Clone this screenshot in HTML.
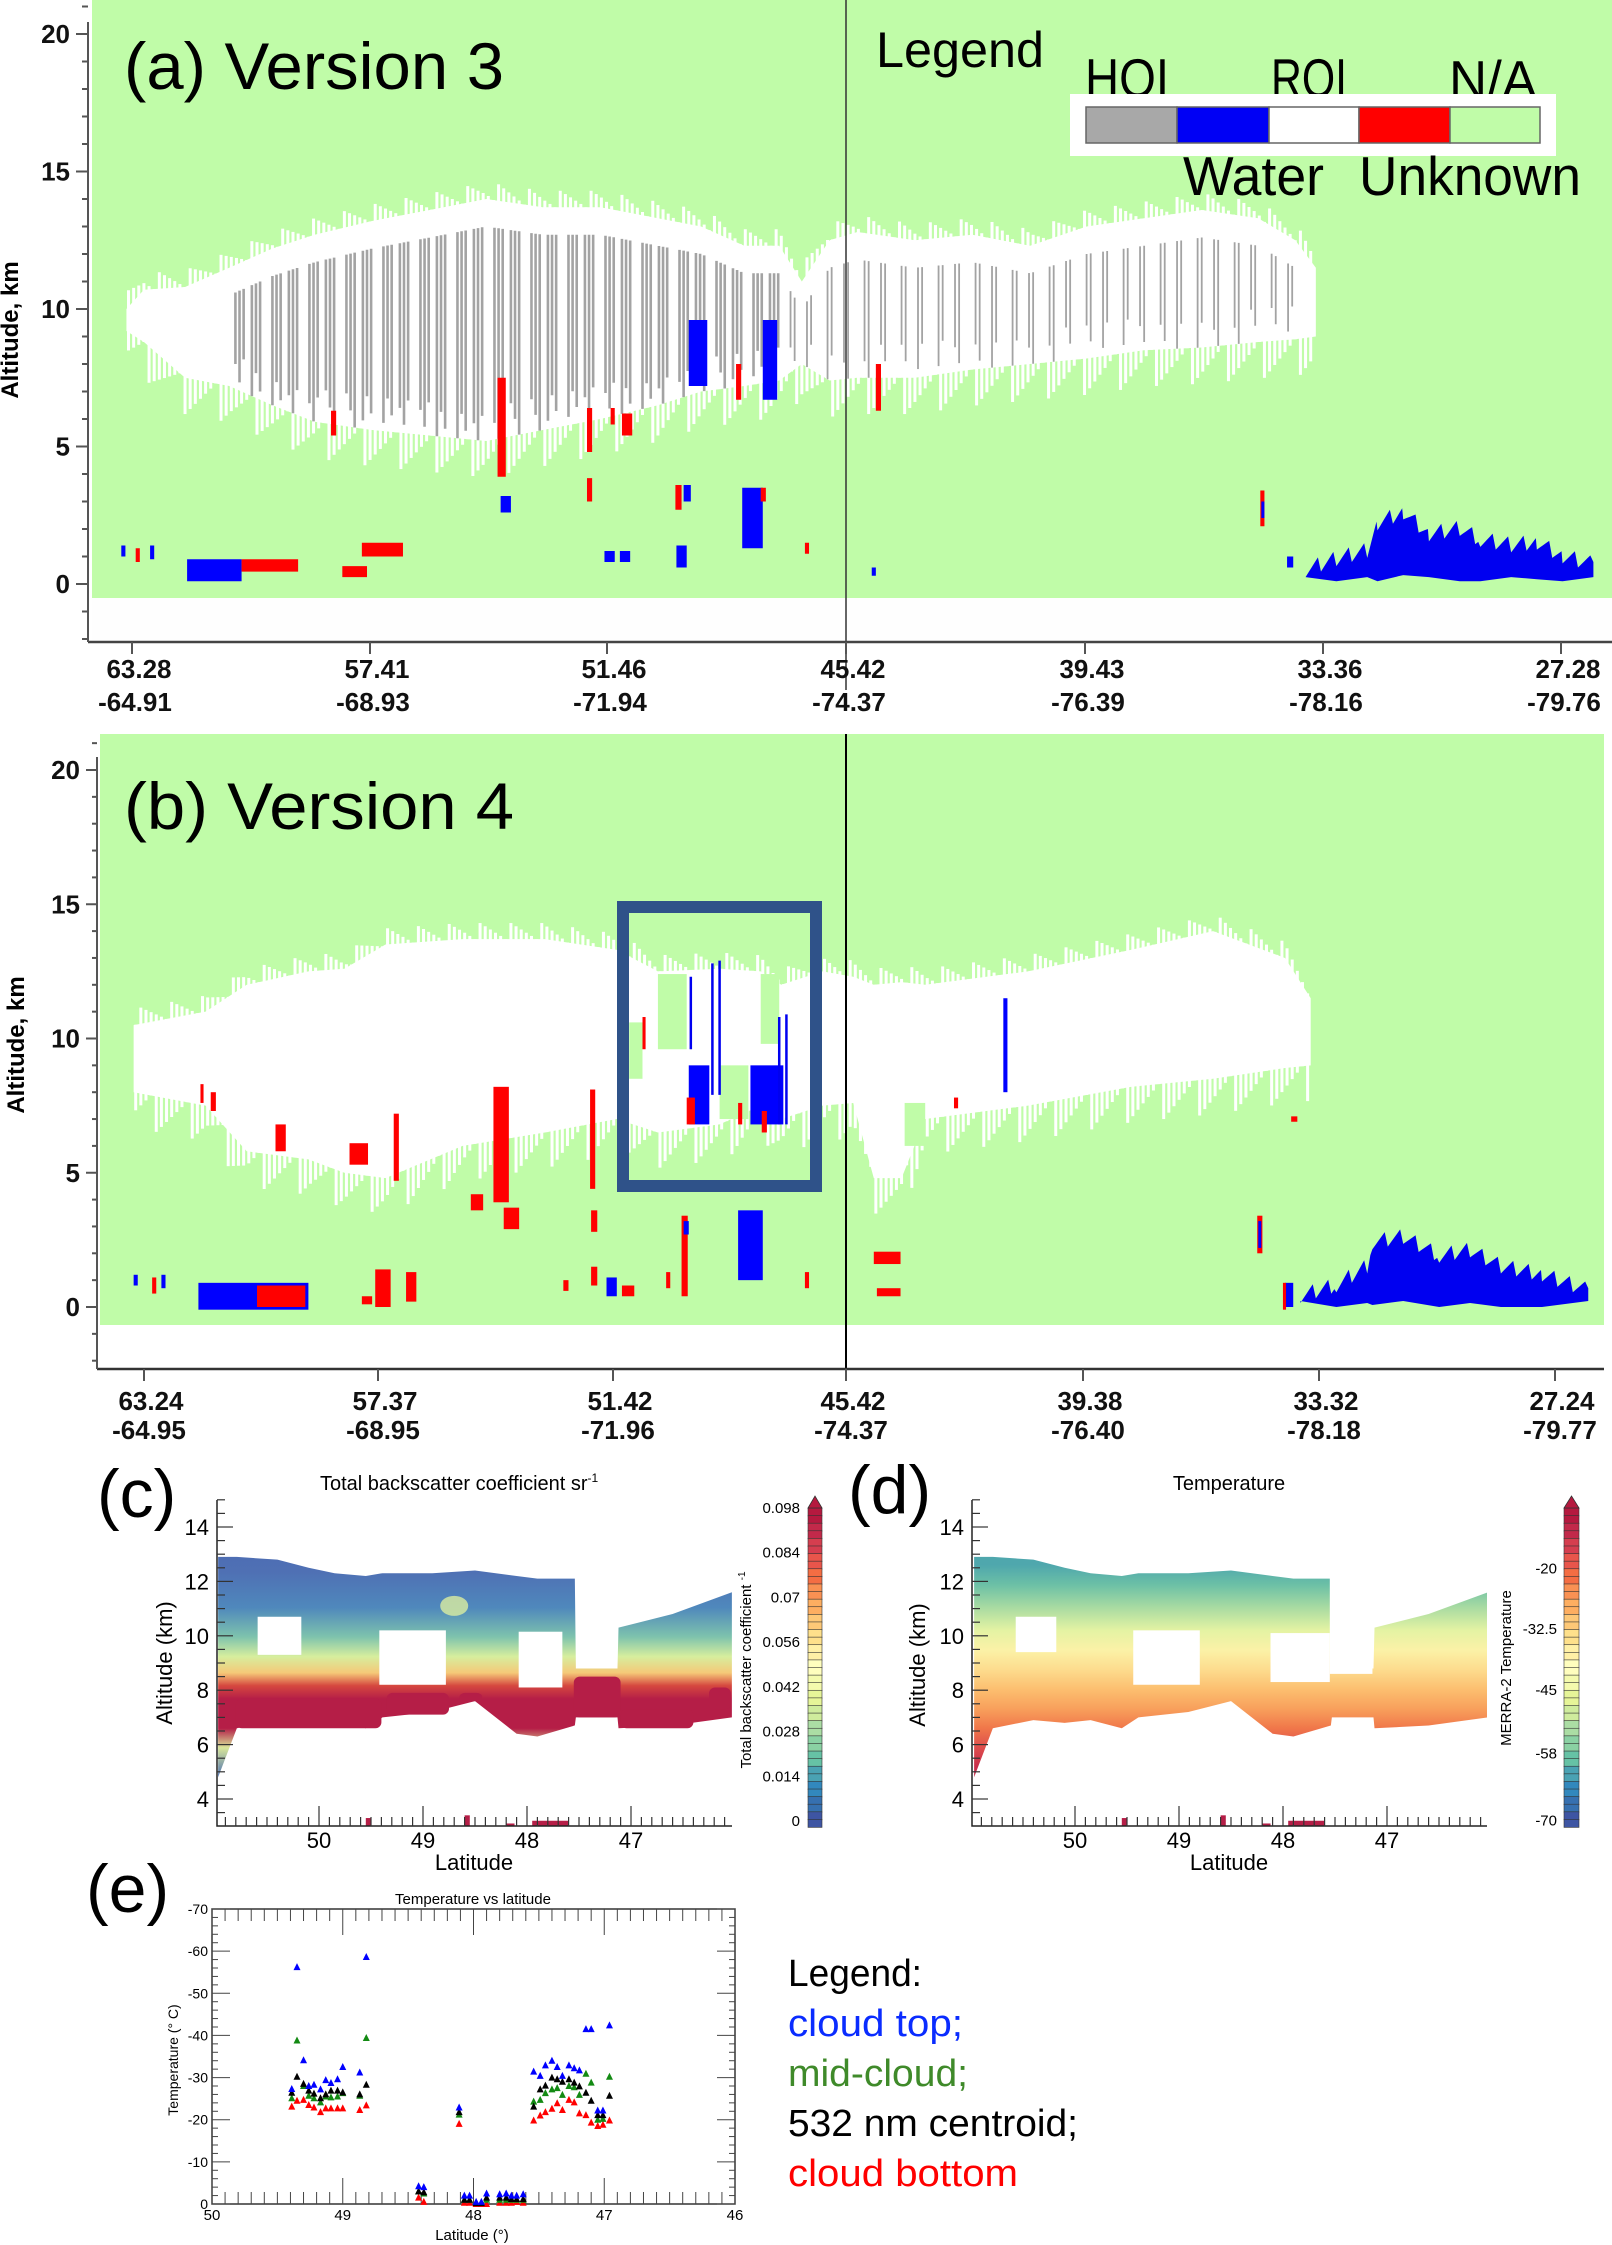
<!DOCTYPE html>
<html><head><meta charset="utf-8"><title>CALIPSO cloud phase comparison</title>
<style>
html,body{margin:0;padding:0;background:#fff;}
svg{display:block;font-family:"Liberation Sans",sans-serif;}
.tk{font-weight:bold;font-size:26px;fill:#111;}
.cal{font-family:"Liberation Sans",sans-serif;fill:#000;}
</style></head>
<body>
<svg id="fig" width="1612" height="2245" viewBox="0 0 1612 2245" xmlns="http://www.w3.org/2000/svg">
<defs>
  <clipPath id="clipA"><rect x="92" y="0" width="1520" height="598"/></clipPath>
  <clipPath id="clipC"><rect x="217" y="1500" width="515" height="326"/></clipPath>
  <clipPath id="clipD"><rect x="972" y="1500" width="515" height="326"/></clipPath>
  <linearGradient id="gradC" gradientUnits="userSpaceOnUse" x1="0" y1="1500" x2="0" y2="1826">
    <stop offset="0" stop-color="#4a66b0"/>
    <stop offset="0.22" stop-color="#4f70b4"/>
    <stop offset="0.33" stop-color="#4f88bc"/>
    <stop offset="0.42" stop-color="#7ec3ad"/>
    <stop offset="0.48" stop-color="#d6ee9e"/>
    <stop offset="0.53" stop-color="#f5c978"/>
    <stop offset="0.57" stop-color="#d5473f"/>
    <stop offset="0.61" stop-color="#b51e47"/>
    <stop offset="0.70" stop-color="#b51e47"/>
    <stop offset="0.76" stop-color="#d8e69a"/>
    <stop offset="0.85" stop-color="#4a6fb2"/>
  </linearGradient>
  <linearGradient id="gradD" gradientUnits="userSpaceOnUse" x1="0" y1="1500" x2="0" y2="1826">
    <stop offset="0.20" stop-color="#4fa7ad"/>
    <stop offset="0.26" stop-color="#6cc0a6"/>
    <stop offset="0.33" stop-color="#a9dba2"/>
    <stop offset="0.40" stop-color="#e4f3a3"/>
    <stop offset="0.46" stop-color="#fbf2a7"/>
    <stop offset="0.52" stop-color="#fddc8e"/>
    <stop offset="0.58" stop-color="#fcbf70"/>
    <stop offset="0.64" stop-color="#f8a05c"/>
    <stop offset="0.70" stop-color="#f0774a"/>
    <stop offset="0.76" stop-color="#de4d4c"/>
    <stop offset="0.82" stop-color="#c72d4b"/>
  </linearGradient>
</defs>

<!-- ================= PANEL A ================= -->
<g>
  <rect x="92" y="0" width="1520" height="598" fill="#c0fca8"/>
  <rect x="92" y="598" width="1520" height="44" fill="#fefefe"/>
  <g id="cloudA" clip-path="url(#clipA)"></g>
  <line x1="846" y1="0" x2="846" y2="690" stroke="#333" stroke-width="1.5"/>
  <line x1="88" y1="642" x2="1612" y2="642" stroke="#444" stroke-width="2.5"/>
  <line x1="88" y1="22" x2="88" y2="642" stroke="#555" stroke-width="2"/>
  <g id="axA"></g>
  <text transform="translate(18,330) rotate(-90)" text-anchor="middle" font-weight="bold" font-size="24">Altitude, km</text>
  <text class="cal" x="124" y="89" font-size="66" textLength="380" lengthAdjust="spacingAndGlyphs">(a) Version 3</text>
  <g>
    <text class="cal" x="876" y="67" font-size="50" textLength="168" lengthAdjust="spacingAndGlyphs">Legend</text>
    <text class="cal" x="1085" y="97" font-size="55" textLength="84" lengthAdjust="spacingAndGlyphs">HOI</text>
    <text class="cal" x="1271" y="97" font-size="55" textLength="76" lengthAdjust="spacingAndGlyphs">ROI</text>
    <text class="cal" x="1449" y="99" font-size="55" textLength="88" lengthAdjust="spacingAndGlyphs">N/A</text>
    <rect x="1070" y="94" width="486" height="62" fill="#fff"/>
    <rect x="1086" y="107" width="91" height="36" fill="#a8a8a8" stroke="#666" stroke-width="1.5"/>
    <rect x="1177" y="107" width="92" height="36" fill="#0000f5" stroke="#666" stroke-width="1.5"/>
    <rect x="1269" y="107" width="90" height="36" fill="#fff" stroke="#666" stroke-width="1.5"/>
    <rect x="1359" y="107" width="91" height="36" fill="#ff0000" stroke="#666" stroke-width="1.5"/>
    <rect x="1450" y="107" width="90" height="36" fill="#c0fca8" stroke="#666" stroke-width="1.5"/>
    <text class="cal" x="1183" y="195" font-size="55" textLength="141" lengthAdjust="spacingAndGlyphs">Water</text>
    <text class="cal" x="1359" y="195" font-size="55" textLength="222" lengthAdjust="spacingAndGlyphs">Unknown</text>
  </g>
</g>

<!-- ================= PANEL B ================= -->
<g>
  <rect x="100" y="734" width="1504" height="591" fill="#c0fca8"/>
  <g id="cloudB"></g>
  <rect x="623" y="907" width="193" height="279" fill="none" stroke="#2f5289" stroke-width="12"/>
  <line x1="846" y1="734" x2="846" y2="1372" stroke="#000" stroke-width="2"/>
  <line x1="97" y1="1369" x2="1604" y2="1369" stroke="#333" stroke-width="2.5"/>
  <line x1="97" y1="757" x2="97" y2="1369" stroke="#555" stroke-width="2"/>
  <g id="axB"></g>
  <text transform="translate(24,1045) rotate(-90)" text-anchor="middle" font-weight="bold" font-size="24">Altitude, km</text>
  <text class="cal" x="124" y="829" font-size="66" textLength="390" lengthAdjust="spacingAndGlyphs">(b) Version 4</text>
</g>

<!-- ================= PANEL C ================= -->
<g>
  <text class="cal" x="97" y="1517" font-size="68">(c)</text>
  <text x="320" y="1490" font-size="20">Total  backscatter  coefficient  sr<tspan font-size="12" dy="-8">-1</tspan></text>
  <g id="plotC" clip-path="url(#clipC)"></g>
  <g id="axC"></g>
  <text transform="translate(172,1663) rotate(-90)" text-anchor="middle" font-size="22">Altitude (km)</text>
  <text x="474" y="1870" text-anchor="middle" font-size="22">Latitude</text>
  <g id="cbC"></g>
  <text transform="translate(751,1670) rotate(-90)" text-anchor="middle" font-size="15">Total backscatter  coefficient <tspan font-size="10" dy="-6">-1</tspan></text>
</g>

<!-- ================= PANEL D ================= -->
<g>
  <text class="cal" x="848" y="1513" font-size="68">(d)</text>
  <text x="1229" y="1490" text-anchor="middle" font-size="20">Temperature</text>
  <g id="plotD" clip-path="url(#clipD)"></g>
  <g id="axD"></g>
  <text transform="translate(925,1665) rotate(-90)" text-anchor="middle" font-size="22">Altitude (km)</text>
  <text x="1229" y="1870" text-anchor="middle" font-size="22">Latitude</text>
  <g id="cbD"></g>
  <text transform="translate(1511,1668) rotate(-90)" text-anchor="middle" font-size="15">MERRA-2 Temperature</text>
</g>

<!-- ================= PANEL E ================= -->
<g>
  <text class="cal" x="86" y="1912" font-size="68">(e)</text>
  <text x="473" y="1904" text-anchor="middle" font-size="15">Temperature vs latitude</text>
  <rect x="212" y="1909" width="523" height="295" fill="none" stroke="#333" stroke-width="1.5"/>
  <g id="axE"></g>
  <g id="ptsE"></g>
  <text transform="translate(178,2060) rotate(-90)" text-anchor="middle" font-size="14">Temperature  (° C)</text>
  <text x="472" y="2240" text-anchor="middle" font-size="15">Latitude (°)</text>
  <g font-size="38">
    <text x="788" y="1986" fill="#000" textLength="134" lengthAdjust="spacingAndGlyphs">Legend:</text>
    <text x="788" y="2036" fill="#0a2cff" textLength="175" lengthAdjust="spacingAndGlyphs">cloud top;</text>
    <text x="788" y="2086" fill="#3f8a2a" textLength="180" lengthAdjust="spacingAndGlyphs">mid-cloud;</text>
    <text x="788" y="2136" fill="#000" textLength="290" lengthAdjust="spacingAndGlyphs">532 nm centroid;</text>
    <text x="788" y="2186" fill="#f00" textLength="230" lengthAdjust="spacingAndGlyphs">cloud bottom</text>
  </g>
</g>
</svg>

<script>
// ---------- chart data (panel e: temperature vs latitude) ----------
const latE = [49.39,49.35,49.30,49.26,49.22,49.17,49.13,49.09,49.04,49.00,48.87,48.82,
              48.11,48.42,48.38,47.90,48.07,48.03,47.98,47.94,47.80,47.75,47.71,47.67,47.62,
              47.54,47.49,47.45,47.40,47.36,47.32,47.27,47.23,47.19,47.14,47.10,47.05,47.01,46.96];
const topE = [-27.3,-56.2,-34.1,-28,-28.3,-27.2,-29.4,-28.7,-29.6,-32.5,-31.2,-58.6,
              -22.9,-4.2,-4,-2.5,-2,-2,-0.5,-0.5,-2.3,-2.5,-2,-2,-2.3,
              -31.4,-30.4,-32.9,-34,-32.5,-30.4,-32.9,-32.2,-31.7,-41.5,-41.5,-22.2,-22.2,-42.4];
const cenE = [-26.4,-30.2,-28.5,-26.9,-26.2,-25.1,-26,-26.9,-26.9,-26.5,-26,-28.3,
              -21.8,-3,-2.8,-1.5,-1,-1,-0.2,-0.2,-1.5,-1.5,-1.2,-1.2,-1.2,
              -23.1,-27.2,-28.1,-30,-29.6,-29,-29.6,-28.8,-27.9,-26.4,-24.5,-21.1,-21.1,-25.7];
const midE = [-25.1,-38.8,-28,-25.7,-25.1,-24.1,-25.5,-25.3,-25.5,-26.3,-25.7,-39.4,
              -21.2,-3,-2.5,-1,-1,-1,-0.3,-0.3,-1,-1,-1,-1,-1,
              -24.3,-24.7,-26.3,-27.2,-27.5,-25.9,-28,-27.7,-25.9,-30.9,-28.8,-20,-20.2,-30.2];
const botE = [-23.1,-24.5,-24.7,-23.5,-22.9,-21.8,-22.7,-22.7,-22.7,-22.7,-22.3,-23.4,
              -19,-1.5,-0.5,0,-0.3,-0.3,0,0,-0.3,-0.3,-0.3,-0.5,-0.3,
              -19.8,-21,-21.8,-22.6,-23.9,-22.3,-24.7,-24.1,-21.5,-21.1,-19.3,-18.5,-18.8,-19.8];
const eXTicks = [50,49,48,47,46];
const eYTicks = [0,-10,-20,-30,-40,-50,-60,-70];

// ---------- panel a / b axis labels ----------
const aTickLat = ["63.28","57.41","51.46","45.42","39.43","33.36","27.28"];
const aTickLon = ["-64.91","-68.93","-71.94","-74.37","-76.39","-78.16","-79.76"];
const bTickLat = ["63.24","57.37","51.42","45.42","39.38","33.32","27.24"];
const bTickLon = ["-64.95","-68.95","-71.96","-74.37","-76.40","-78.18","-79.77"];
const altTicks = [0,5,10,15,20];

// ---------- cloud envelopes (x in zoom units, altitude km) ----------
const aX   = [123,140,180,223,265,306,362,418,473,528,584,640,682,724,758,780,807,834,890,946,1002,1057,1113,1169,1224,1260,1280];
const aTop = [10.0,10.7,10.8,11.5,12.2,12.7,13.2,13.6,14.0,13.7,13.7,13.3,13.0,12.3,12.3,11.0,12.5,12.8,12.5,12.7,12.3,13.0,13.3,13.6,13.3,12.5,11.5];
const aBot = [9.2,8.8,7.5,7.2,6.5,5.9,5.6,5.4,5.2,5.6,6.0,6.5,7.0,7.2,7.4,8.0,7.4,7.5,7.5,7.8,8.0,8.2,8.5,8.6,8.8,8.9,9.0];
const bX   = [130,200,240,300,335,375,450,530,600,640,700,740,760,800,830,850,877,900,1000,1100,1180,1250,1275];
const bTop = [10.5,11.0,12.0,12.5,12.6,13.5,13.7,13.7,13.3,12.5,12.6,12.5,12.0,12.5,12.3,12.0,12.1,12.0,12.5,13.3,14.0,13.0,11.5];
const bBot = [8.0,7.5,5.8,5.5,5.0,4.8,6.0,6.5,7.0,6.5,6.8,7.5,7.0,7.5,7.6,4.8,4.8,7.0,7.5,8.2,8.5,8.9,9.0];
const aLow = [[1270,0.6],[1300,1.0],[1330,1.3],[1340,2.3],[1365,2.7],[1390,1.9],[1420,2.1],[1440,1.7],[1470,1.5],[1495,1.6],[1520,1.1],[1550,0.8]];
const bLow = [[1265,0.5],[1300,0.9],[1330,1.6],[1335,2.5],[1365,2.7],[1400,2.0],[1430,2.2],[1460,1.6],[1500,1.3],[1545,0.7]];
// patches: [x1,x2,altTop,altBot,color]
const aPatch = [[484,492,7.5,3.9,'#f00'],[487,497,3.2,2.6,'#00f'],[571,576,6.4,4.8,'#f00'],[571,576,3.85,3.0,'#f00'],
  [605,615,6.2,5.4,'#f00'],[594,598,6.4,5.8,'#f00'],[322,327,6.3,5.4,'#f00'],[670,688,9.6,7.2,'#00f'],[742,756,9.6,6.7,'#00f'],
  [716,721,8.0,6.7,'#f00'],[722,742,3.5,1.3,'#00f'],[740,745,3.5,3.0,'#f00'],[657,663,3.6,2.7,'#f00'],[665,672,3.6,3.0,'#00f'],
  [852,857,8.0,6.3,'#f00'],[1226,1230,3.4,2.1,'#f00'],[1227,1229,3.0,2.4,'#00f'],[182,235,0.9,0.1,'#00f'],[235,290,0.9,0.45,'#f00'],
  [333,357,0.65,0.25,'#f00'],[352,392,1.5,1.0,'#f00'],[118,122,1.4,1.0,'#00f'],[132,136,1.3,0.8,'#f00'],[146,150,1.4,0.9,'#00f'],
  [588,598,1.2,0.8,'#00f'],[603,613,1.2,0.8,'#00f'],[658,668,1.4,0.6,'#00f'],[783,787,1.5,1.1,'#f00'],[848,852,0.6,0.3,'#00f'],[1252,1258,1.0,0.6,'#00f']];
const bPatch = [[268,278,6.8,5.8,'#f00'],[195,198,8.3,7.6,'#f00'],[205,210,8.0,7.3,'#f00'],[340,358,6.1,5.3,'#f00'],[383,388,7.2,4.7,'#f00'],
  [480,495,8.2,3.9,'#f00'],[490,505,3.7,2.9,'#f00'],[458,470,4.2,3.6,'#f00'],[574,579,8.1,4.4,'#f00'],[575,581,3.6,2.8,'#f00'],
  [575,581,1.5,0.8,'#f00'],[670,690,9.0,6.8,'#00f'],[730,762,9.0,6.8,'#00f'],[668,676,7.8,6.8,'#f00'],[718,722,7.6,6.8,'#f00'],
  [741,746,7.3,6.5,'#f00'],[625,628,10.8,9.6,'#f00'],[976,980,11.5,8.0,'#00f'],[928,932,7.8,7.4,'#f00'],[1256,1262,7.1,6.9,'#f00'],
  [663,669,3.4,0.4,'#f00'],[665,670,3.2,2.7,'#00f'],[648,652,1.3,0.7,'#f00'],[718,742,3.6,1.0,'#00f'],[548,553,1.0,0.6,'#f00'],
  [590,600,1.1,0.4,'#00f'],[605,617,0.8,0.4,'#f00'],[783,787,1.3,0.7,'#f00'],[193,300,0.9,-0.1,'#00f'],[250,297,0.8,0.0,'#f00'],
  [365,380,1.4,0.0,'#f00'],[395,405,1.3,0.2,'#f00'],[352,362,0.4,0.1,'#f00'],[130,134,1.2,0.8,'#00f'],[148,152,1.1,0.5,'#f00'],[157,161,1.2,0.7,'#00f'],
  [850,876,2.06,1.6,'#f00'],[853,876,0.7,0.4,'#f00'],[1223,1228,3.4,2.0,'#f00'],[1224,1226,3.2,2.2,'#00f'],[1250,1258,0.9,0.0,'#00f'],[1248,1251,0.9,-0.1,'#f00']];
const bStrand = [[672,9.6,12.3],[693,7.9,12.8],[700,7.9,12.9],[758,6.8,10.8],[765,6.8,10.9]];

// ---------- panel c / d envelopes (latitude, km) ----------
const cLat = [50.97,50.79,50.4,50.1,49.85,49.55,49.39,48.91,48.5,48.1,47.9,47.54,47.53,47.13,47.12,46.6,46.03];
const cTop = [12.9,12.9,12.8,12.5,12.3,12.2,12.3,12.3,12.4,12.2,12.1,12.1,8.8,8.8,10.3,10.8,11.6];
const cBot = [4.8,6.6,6.9,6.8,6.9,6.6,7.0,7.2,7.6,6.4,6.3,6.7,7.0,7.0,6.6,6.7,7.0];
const cHoles = [[50.59,50.17,10.7,9.3],[49.42,48.78,10.2,8.2],[48.08,47.66,10.15,8.1],[47.55,47.3,6.7,6.4]];
const cRed = [[50.8,49.4,7.7,6.6],[49.35,48.75,7.9,7.1],[48.65,48.43,7.9,7.6],[47.55,47.1,8.5,7.0],[47.1,46.4,7.3,6.6],[46.25,46.04,8.1,7.3]];
const cbCTicks = ["0.098","0.084","0.07","0.056","0.042","0.028","0.014","0"];
const cbDTicks = ["-20","-32.5","-45","-58","-70"];
const cbDPos = [0.19,0.38,0.57,0.77,0.98];
const latTicks = [50,49,48,47];
const kmTicks = [14,12,10,8,6,4];
const specPal = ["#3e55a3","#3670b0","#3288bd","#4aa2b3","#66c2a5","#8ad1a3","#abdda4","#cfec9d","#e6f598","#f4faad","#fffebe","#fff0a6","#fee08b","#fdc877","#fdae61","#f99153","#f46d43","#e8554b","#d53e4f","#c2294a","#b5193f"];

const NS = "http://www.w3.org/2000/svg";
function mk(tag, attrs, parent){
  const e = document.createElementNS(NS, tag);
  for (const k in attrs) e.setAttribute(k, attrs[k]);
  parent.appendChild(e);
  return e;
}
const $ = id => document.getElementById(id);

// scales
const zx = z => z*1.028;
const ya = a => 584 - a*27.5;
const yb = a => 1307 - a*26.85;
const xc = lat => 319 + (50-lat)*104;
const xd = lat => 1075 + (50-lat)*104;
const ycd = a => 1527 + (14-a)*27.2;
const xe = lat => 212 + (50-lat)*130.75;
const ye = t => 2204 + t*(295/70);

function envelope(X,T,B,xf,yf){
  let s = X.map((x,i)=>xf(x)+","+yf(T[i])).join(" ");
  for(let i=X.length-1;i>=0;i--) s += " "+xf(X[i])+","+yf(B[i]);
  return s;
}
function interp(X,V,x){
  let i=0; while(i<X.length-2 && X[i+1]<x) i++;
  const f=Math.max(0,Math.min(1,(x-X[i])/(X[i+1]-X[i])));
  return V[i]+(V[i+1]-V[i])*f;
}
function jagged(pts, xf, yf, base){
  let s = [];
  for(let i=0;i<pts.length-1;i++){
    const [x0,a0]=pts[i],[x1,a1]=pts[i+1];
    for(let x=x0;x<x1;x+=3){
      const a = a0+(a1-a0)*(x-x0)/(x1-x0);
      const j = ((x*7)%5)/5*0.7;
      s.push(xf(x)+","+yf(a+j-0.35));
    }
  }
  const last = pts[pts.length-1];
  s.push(xf(last[0])+","+yf(last[1]));
  for(let i=pts.length-1;i>=0;i--){ const x=pts[i][0]; s.push(xf(x)+","+yf(base+(((x*3)%4)/4)*0.3)); }
  return s.join(" ");
}

// ===== Panel A =====
{
  const g = $("cloudA");
  const c = mk("polygon",{points:envelope(aX,aTop,aBot,zx,ya),fill:"#fff"},g);
  
  
  // ragged cloud top/bottom fringe
  for(let x=125;x<1280;x+=5){
    const t=interp(aX,aTop,x), b=interp(aX,aBot,x);
    const up = mk("line",{x1:zx(x),x2:zx(x),y1:ya(t+((x*13)%6)*0.12),y2:ya(t-0.5),stroke:"#fff","stroke-width":3},g);
    
    
    const dn = mk("line",{x1:zx(x),x2:zx(x),y1:ya(b+0.5),y2:ya(b-((x*11)%7)*0.22),stroke:"#fff","stroke-width":3},g);
    
    
  }
  // gray HOI striping
  for(let x=225;x<1265;x+=4){
    const h = (x*13)%9;
    if(h<(x<760?3:5)) continue;
    const t=interp(aX,aTop,x), b=interp(aX,aBot,x);
    const st = mk("line",{x1:zx(x),x2:zx(x),y1:ya(t-0.1-((x*7)%4)*0.3),y2:ya(b+((x*17)%5)*0.3),stroke:"#a3a3a3","stroke-width":(x<760?2.6:1.8)},g);
    
    
  }
  const low = mk("polygon",{points:jagged(aLow,zx,ya,0.1),fill:"#0000f0"},g);
  
  
  aPatch.forEach(p=>{
    const r = mk("rect",{x:zx(p[0]),y:ya(p[2]),width:Math.max(3,zx(p[1])-zx(p[0])),height:ya(p[3])-ya(p[2]),fill:p[4]},g);
    
    
  });
  const ax = $("axA");
  for(let a=-2;a<=21;a++){
    const major = a%5===0 && a>=0;
    const t = mk("line",{x1:major?76:82,x2:88,y1:ya(a),y2:ya(a),stroke:"#555","stroke-width":2},ax);
    
    
  }
  altTicks.forEach(a=>{
    const t = mk("text",{x:70,y:ya(a)+9,"text-anchor":"end",class:"tk"},ax);
    t.textContent = a;
    
    
  });
  const tx=[132,370,607,846,1085,1323,1561];
  aTickLat.forEach((s,i)=>{
    const t = mk("line",{x1:tx[i],x2:tx[i],y1:642,y2:654,stroke:"#555","stroke-width":2},ax);
    
    
    const l1 = mk("text",{x:tx[i]+7,y:678,"text-anchor":"middle",class:"tk"},ax);
    l1.textContent = s;
    
    
    const l2 = mk("text",{x:tx[i]+3,y:711,"text-anchor":"middle",class:"tk"},ax);
    l2.textContent = aTickLon[i];
    
    
  });
}

// ===== Panel B =====
{
  const g = $("cloudB");
  const c = mk("polygon",{points:envelope(bX,bTop,bBot,zx,yb),fill:"#fff"},g);
  
  
  for(let x=132;x<1275;x+=5){
    const t=interp(bX,bTop,x), b=interp(bX,bBot,x);
    const up = mk("line",{x1:zx(x),x2:zx(x),y1:yb(t+((x*13)%6)*0.12),y2:yb(t-0.5),stroke:"#fff","stroke-width":3},g);
    
    
    const dn = mk("line",{x1:zx(x),x2:zx(x),y1:yb(b+0.5),y2:yb(b-((x*11)%7)*0.22),stroke:"#fff","stroke-width":3},g);
    
    
  }
  // green gaps in cloud (inside box region)
  [[640,668,12.4,9.6],[700,728,9.0,7.0],[740,758,12.4,9.8],[612,625,10.6,8.5],[880,900,7.6,6.0]].forEach(p=>{
    const r = mk("rect",{x:zx(p[0]),y:yb(p[2]),width:zx(p[1])-zx(p[0]),height:yb(p[3])-yb(p[2]),fill:"#c0fca8"},g);
    
    
  });
  const low = mk("polygon",{points:jagged(bLow,zx,yb,0.0),fill:"#0000f0"},g);
  
  
  bPatch.forEach(p=>{
    const r = mk("rect",{x:zx(p[0]),y:yb(p[2]),width:Math.max(3,zx(p[1])-zx(p[0])),height:yb(p[3])-yb(p[2]),fill:p[4]},g);
    
    
  });
  bStrand.forEach(p=>{
    const l = mk("line",{x1:zx(p[0]),x2:zx(p[0]),y1:yb(p[2]),y2:yb(p[1]),stroke:"#0000f0","stroke-width":2.5},g);
    
    
  });
  const ax = $("axB");
  for(let a=-2;a<=21;a++){
    const major = a%5===0 && a>=0;
    const t = mk("line",{x1:major?86:92,x2:97,y1:yb(a),y2:yb(a),stroke:"#555","stroke-width":2},ax);
    
    
  }
  altTicks.forEach(a=>{
    const t = mk("text",{x:80,y:yb(a)+9,"text-anchor":"end",class:"tk"},ax);
    t.textContent = a;
    
    
  });
  const tx=[144,378,613,846,1083,1319,1555];
  bTickLat.forEach((s,i)=>{
    const t = mk("line",{x1:tx[i],x2:tx[i],y1:1369,y2:1381,stroke:"#555","stroke-width":2},ax);
    
    
    const l1 = mk("text",{x:tx[i]+7,y:1410,"text-anchor":"middle",class:"tk"},ax);
    l1.textContent = s;
    
    
    const l2 = mk("text",{x:tx[i]+5,y:1439,"text-anchor":"middle",class:"tk"},ax);
    l2.textContent = bTickLon[i];
    
    
  });
}

// ===== Panels C & D =====
function curtain(gid, xf, fill, holes, reds, prefix){
  const g = $(gid);
  const c = mk("polygon",{points:envelope(cLat,cTop,cBot,xf,ycd),fill:fill},g);
  
  
  if(reds){
    reds.forEach(r=>{
      const e = mk("rect",{x:xf(r[0]),y:ycd(r[2]),width:xf(r[1])-xf(r[0]),height:ycd(r[3])-ycd(r[2]),rx:6,fill:"#b51e47"},g);
      
      
    });
    const y = mk("ellipse",{cx:xf(48.7),cy:ycd(11.1),rx:14,ry:10,fill:"#dbeea0",opacity:0.8},g);
    
    
  }
  holes.forEach(h=>{
    const r = mk("rect",{x:xf(h[0]),y:ycd(h[2]),width:xf(h[1])-xf(h[0]),height:ycd(h[3])-ycd(h[2]),fill:"#fff"},g);
    
    
  });
  [[49.55,49.5,3.3],[48.6,48.55,3.4],[48.2,48.12,3.1],[47.95,47.6,3.2]].forEach(b=>{
    const r = mk("rect",{x:xf(b[0]),y:ycd(b[2]),width:xf(b[1])-xf(b[0]),height:1826-ycd(b[2]),fill:"#b51e47"},g);
    
    
  });
}
curtain("plotC", xc, "url(#gradC)", cHoles, cRed, "panel-c");
curtain("plotD", xd, "url(#gradD)", [[50.57,50.18,10.7,9.4],[49.44,48.8,10.2,8.2],[48.12,47.55,10.1,8.3],[47.55,47.14,12.2,8.6]], null, "panel-d");

function axesCD(gid, x0, xf, prefix){
  const ax = $(gid);
  const f = mk("polyline",{points:`${x0},1500 ${x0},1826 ${x0+515},1826`,fill:"none",stroke:"#222","stroke-width":1.5},ax);
  
  
  for(let a=3.5;a<=15;a+=0.5){
    const major = Math.abs(a%2)<0.01;
    const t = mk("line",{x1:x0,x2:x0+(major?16:8),y1:ycd(a),y2:ycd(a),stroke:"#333","stroke-width":1.2},ax);
    
    
  }
  kmTicks.forEach(k=>{
    const t = mk("text",{x:x0-8,y:ycd(k)+8,"text-anchor":"end","font-size":22},ax);
    t.textContent = k;
    
    
  });
  for(let l=51;l>=46;l-=0.1){
    const x = xf(l); if(x<x0+2||x>x0+515) continue;
    const major = Math.abs(l-Math.round(l))<0.01;
    const t = mk("line",{x1:x,x2:x,y1:1826,y2:1826-(major?20:9),stroke:"#333","stroke-width":1.2},ax);
    
    
  }
  latTicks.forEach(l=>{
    const t = mk("text",{x:xf(l),y:1848,"text-anchor":"middle","font-size":22},ax);
    t.textContent = l;
    
    
  });
}
axesCD("axC", 217, xc, "panel-c");
axesCD("axD", 972, xd, "panel-d");

function colorbar(gid, x, w, prefix){
  const g = $(gid);
  const y0=1508, y1=1827, n=specPal.length*2;
  const h=(y1-y0)/n;
  for(let i=0;i<n;i++){
    const col = specPal[Math.floor((n-1-i)/2)];
    const r = mk("rect",{x:x,y:y0+i*h,width:w,height:h+0.4,fill:col,stroke:"#333","stroke-width":0.6},g);
    
    
  }
  const tri = mk("polygon",{points:`${x},${y0} ${x+w},${y0} ${x+w/2},${y0-12}`,fill:"#b5193f",stroke:"#333","stroke-width":0.8},g);
  
  
}
colorbar("cbC", 808, 14, "backscatter-colorbar");
colorbar("cbD", 1564, 15, "temperature-colorbar");
cbCTicks.forEach((s,i)=>{
  const t = mk("text",{x:800,y:1513+i*(313/7),"text-anchor":"end","font-size":15},$("cbC"));
  t.textContent = s;
  
  
});
cbDTicks.forEach((s,i)=>{
  const t = mk("text",{x:1557,y:1508+cbDPos[i]*319+5,"text-anchor":"end","font-size":15},$("cbD"));
  t.textContent = s;
  
  
});

// ===== Panel E =====
{
  const ax = $("axE");
  for(let l=50;l>=46-1e-6;l-=0.1){
    const x = xe(l), major = Math.abs(l-Math.round(l))<0.01;
    [[2204,2204-(major?26:12)],[1909,1909+(major?26:12)]].forEach(p=>{
      const t = mk("line",{x1:x,x2:x,y1:p[0],y2:p[1],stroke:"#444","stroke-width":1},ax);
      
      
    });
  }
  for(let v=0;v>=-70;v-=2){
    const y = ye(v), major = v%10===0;
    [[212,212+(major?18:6)],[735,735-(major?18:6)]].forEach(p=>{
      const t = mk("line",{x1:p[0],x2:p[1],y1:y,y2:y,stroke:"#444","stroke-width":1},ax);
      
      
    });
  }
  eXTicks.forEach(l=>{
    const t = mk("text",{x:xe(l),y:2220,"text-anchor":"middle","font-size":15},ax);
    t.textContent = l;
    
    
  });
  eYTicks.forEach(v=>{
    const t = mk("text",{x:208,y:ye(v)+5,"text-anchor":"end","font-size":14},ax);
    t.textContent = v;
    
    
  });
  const g = $("ptsE");
  const series = [[botE,"#ff0000","cloud-bottom-point"],[midE,"#138a13","mid-cloud-point"],[cenE,"#000000","centroid-point"],[topE,"#0000ff","cloud-top-point"]];
  series.forEach(s=>{
    s[0].forEach((v,i)=>{
      const x = xe(latE[i]), y = ye(v);
      const p = mk("polygon",{points:`${x-3.5},${y+3} ${x+3.5},${y+3} ${x},${y-4}`,fill:s[1]},g);
      
      
    });
  });
}
</script>
</body></html>
